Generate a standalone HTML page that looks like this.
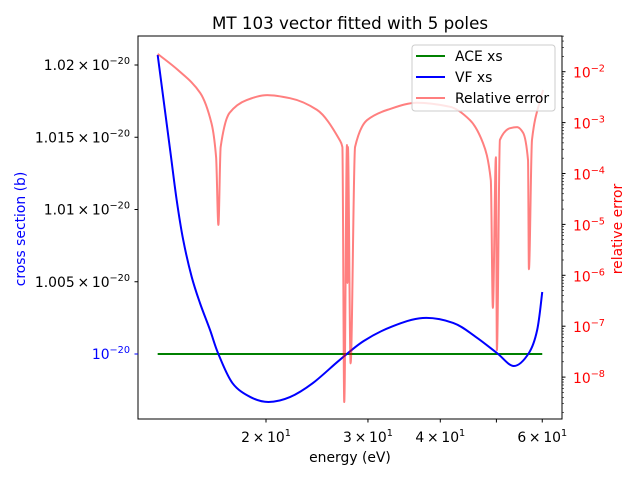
<!DOCTYPE html>
<html><head><meta charset="utf-8"><style>
body{margin:0;background:#fff;}
svg{display:block;font-family:"DejaVu Sans","Liberation Sans",sans-serif;}
</style></head><body>
<svg id="chart" width="640" height="480" viewBox="0 0 640 480">
<rect width="640" height="480" fill="#fff"/>
<text x="350" y="29" font-size="16.7" text-anchor="middle">MT 103 vector fitted with 5 poles</text>
<g id="plot"></g>
<rect x="138" y="36" width="424" height="383" fill="none" stroke="#000" stroke-width="1"/>
<g id="ticks" font-size="13.9"></g>
<text x="350" y="462" font-size="13.9" text-anchor="middle">energy (eV)</text>
<text transform="translate(25,229) rotate(-90)" font-size="13.9" fill="#0000ff" text-anchor="middle">cross section (b)</text>
<text transform="translate(622,229) rotate(-90)" font-size="13.9" fill="#ff0000" text-anchor="middle">relative error</text>
<g>
<rect x="412" y="45" width="143" height="66" rx="3" fill="#fff" fill-opacity="0.8" stroke="#ccc"/>
<g><line x1="416" y1="56" x2="445" y2="56" stroke="#008000" stroke-width="2"/><text x="455" y="61" font-size="13.9">ACE xs</text></g>
<g><line x1="416" y1="77" x2="445" y2="77" stroke="#0000ff" stroke-width="2"/><text x="455" y="82" font-size="13.9">VF xs</text></g>
<g><line x1="416" y1="98" x2="445" y2="98" stroke="#ff0000" stroke-opacity="0.5" stroke-width="2"/><text x="455" y="103" font-size="13.9">Relative error</text></g>
</g>
</svg>
<script>
const vfEnergy=[13.0,13.66,14.02,14.39,14.88,15.38,16.01,16.55,17.5,18.8,20.2,22.0,24.1,26.8,29.5,33.0,37.3,42.1,46.0,50.1,53.6,56.9,58.8,60.0];
const vfXs=[1.02069,1.01412,1.01066,1.00789,1.00535,1.00353,1.00166,1.0,0.99799,0.99702,0.99668,0.99702,0.99799,0.99958,1.00090,1.00190,1.00249,1.00215,1.00120,1.00007,0.99917,1.00007,1.00166,1.00429];
const aceEnergy=[13.0,60.0];
const aceXs=[1.0,1.0];
const errEnergy=[13.0,14.1,15.4,16.1,16.4,16.55,16.7,17.3,18.5,20.1,22.0,24.5,26.8,27.1,27.3,27.6,27.65,27.7,28.0,28.5,29.9,32.4,36.5,41.6,45.0,47.4,48.9,49.3,49.9,50.1,50.7,52.8,54.3,55.6,56.7,56.9,57.6,59.5,60.2];
const errLog=[-1.65,-1.97,-2.42,-3.01,-3.68,-5.01,-3.48,-2.81,-2.56,-2.46,-2.52,-2.75,-3.34,-3.48,-8.49,-3.44,-6.15,-3.48,-7.73,-3.48,-2.95,-2.75,-2.61,-2.69,-2.95,-3.40,-4.13,-6.64,-3.68,-7.47,-3.34,-3.11,-3.09,-3.20,-3.74,-5.88,-3.34,-2.56,-2.36];
const xTickValues=[20,30,40,50,60];
const xTickLabels=["2","3","4","","6"];
const yTickValues=[1.0,1.005,1.01,1.015,1.02];
const yTickLabels=["","1.005","1.01","1.015","1.02"];
const y2TickExps=[-8,-7,-6,-5,-4,-3,-2];

const NS="http://www.w3.org/2000/svg";
const X=e=>266+579*Math.log10(e/20);
const Y=v=>354-(v-1)/0.005*72.25;
const Y2=l=>71.7-(l+2)*50.9;
function mk(tag,attrs,parent){const el=document.createElementNS(NS,tag);for(const k in attrs)el.setAttribute(k,attrs[k]);parent.appendChild(el);return el;}
function monotone(pts){const n=pts.length,d=[],m=[];
for(let i=0;i<n-1;i++){const dx=pts[i+1][0]-pts[i][0];d.push(dx>0?(pts[i+1][1]-pts[i][1])/dx:0);}
m[0]=d[0];m[n-1]=d[n-2];
for(let i=1;i<n-1;i++){m[i]=(d[i-1]*d[i]<=0)?0:2/(1/d[i-1]+1/d[i]);}
let s="M"+pts[0][0].toFixed(2)+","+pts[0][1].toFixed(2);
for(let i=0;i<n-1;i++){const h=(pts[i+1][0]-pts[i][0])/3;
s+=" C"+(pts[i][0]+h).toFixed(2)+","+(pts[i][1]+m[i]*h).toFixed(2)+" "+(pts[i+1][0]-h).toFixed(2)+","+(pts[i+1][1]-m[i+1]*h).toFixed(2)+" "+pts[i+1][0].toFixed(2)+","+pts[i+1][1].toFixed(2);}
return s;}
function catmull(pts){let d="M"+pts[0][0].toFixed(2)+","+pts[0][1].toFixed(2);
for(let i=0;i<pts.length-1;i++){const p0=pts[Math.max(0,i-1)],p1=pts[i],p2=pts[i+1],p3=pts[Math.min(pts.length-1,i+2)];
d+=" C"+(p1[0]+(p2[0]-p0[0])/6).toFixed(2)+","+(p1[1]+(p2[1]-p0[1])/6).toFixed(2)+" "+(p2[0]-(p3[0]-p1[0])/6).toFixed(2)+","+(p2[1]-(p3[1]-p1[1])/6).toFixed(2)+" "+p2[0].toFixed(2)+","+p2[1].toFixed(2);}
return d;}
const plot=document.getElementById('plot');
const ace=mk('path',{d:"M"+aceEnergy.map((e,i)=>X(e)+","+Y(aceXs[i])).join(" L"),stroke:"#008000","stroke-width":2,fill:"none"},plot);


const vf=mk('path',{d:catmull(vfEnergy.map((e,i)=>[X(e),Y(vfXs[i])])),stroke:"#0000ff","stroke-width":2,fill:"none"},plot);


const er=mk('path',{d:monotone(errEnergy.map((e,i)=>[X(e),Y2(errLog[i])])),stroke:"#ff0000","stroke-opacity":0.5,"stroke-width":2,fill:"none","stroke-linejoin":"round"},plot);



const tg=document.getElementById('ticks');
xTickValues.forEach((v,i)=>{const x=X(v);
const t=mk('line',{x1:x,y1:419,x2:x,y2:422.5,stroke:"#000"},tg);


if(xTickLabels[i]){const tx=mk('text',{x:x,y:442,"text-anchor":"middle"},tg);


tx.innerHTML=xTickLabels[i]+"\u2009\u00d7\u200910<tspan dy='-6' font-size='9.7'>1</tspan>";}});
yTickValues.forEach((v,i)=>{const y=Y(v);const col=i===0?"#0000ff":"#000";
const t=mk('line',{x1:134.5,y1:y,x2:138,y2:y,stroke:col},tg);


const tx=mk('text',{x:130,y:y+5,"text-anchor":"end",fill:col},tg);


tx.innerHTML=(yTickLabels[i]?yTickLabels[i]+"\u2009\u00d7\u2009":"")+"10<tspan dy='-6' font-size='9.7'>\u221220</tspan>";});
for(let k=-9;k<=-2;k++){for(let m=2;m<=9;m++){const y=Y2(k+Math.log10(m));if(y<36||y>419)continue;
const t=mk('line',{x1:562,y1:y,x2:564,y2:y,stroke:"#000","stroke-width":0.6},tg);

}}
y2TickExps.forEach(k=>{const y=Y2(k);
const t=mk('line',{x1:562,y1:y,x2:565.5,y2:y,stroke:"#000"},tg);


const tx=mk('text',{x:573,y:y+6,fill:"#ff0000"},tg);


tx.innerHTML="10<tspan dy='-6' font-size='9.7'>\u2212"+(-k)+"</tspan>";});
</script>
</body></html>
